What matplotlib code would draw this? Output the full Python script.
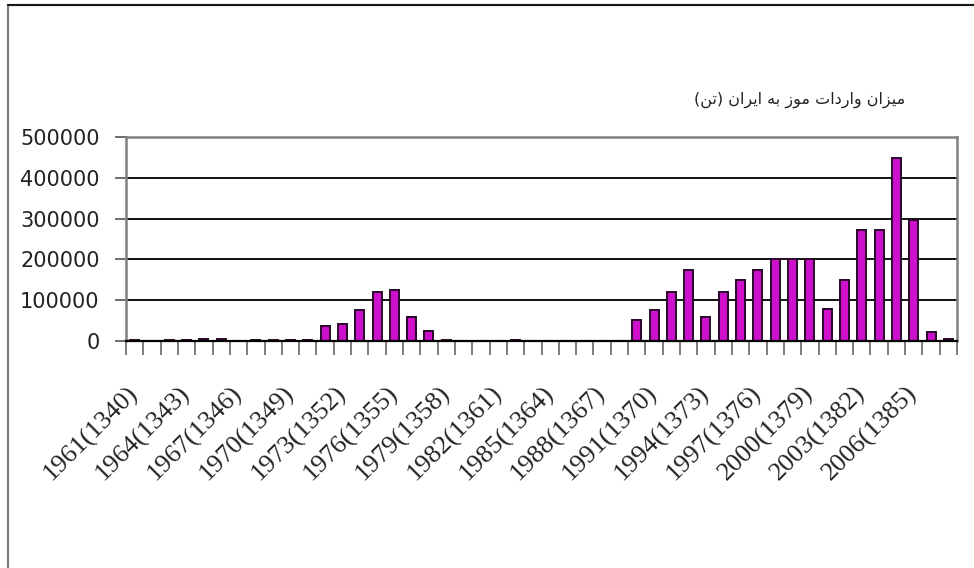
import matplotlib
matplotlib.use("Agg")
import matplotlib.pyplot as plt
from matplotlib.patches import Rectangle

# ---------------- data ----------------
years = list(range(1961, 2009))
imports_tonnes = [2000, 0, 1500, 2000, 6000, 6000, 0, 1500, 1500, 1500, 2000,
                  36000, 41000, 75000, 120000, 124000, 60000, 25000,
                  2000, 0, 0, 0, 2000, 0, 0, 0, 0, 0, 0,
                  52000, 75000, 120000, 173000, 58000, 120000, 150000, 173000,
                  200000, 200000, 200000, 78000, 150000, 273000, 273000,
                  449000, 296000, 21000, 6000]
label_years = [1961, 1964, 1967, 1970, 1973, 1976, 1979, 1982, 1985, 1988,
               1991, 1994, 1997, 2000, 2003, 2006]
tick_labels = ["1961(1340)", "1964(1343)", "1967(1346)", "1970(1349)",
               "1973(1352)", "1976(1355)", "1979(1358)", "1982(1361)",
               "1985(1364)", "1988(1367)", "1991(1370)", "1994(1373)",
               "1997(1376)", "2000(1379)", "2003(1382)", "2006(1385)"]
y_ticks = [0, 100000, 200000, 300000, 400000, 500000]
title_text = "میزان واردات موز به ایران (تن)"


# ------------- minimal Persian shaping (matplotlib has no shaper) -------------
FORMS = {  # iso, final, initial, medial
    "م": ("\uFEE1", "\uFEE2", "\uFEE3", "\uFEE4"),
    "ی": ("\uFEEF", "\uFEF0", "\uFEF3", "\uFEF4"),
    "ز": ("\uFEAF", "\uFEB0", None, None),
    "ا": ("\uFE8D", "\uFE8E", None, None),
    "ن": ("\uFEE5", "\uFEE6", "\uFEE7", "\uFEE8"),
    "و": ("\uFEED", "\uFEEE", None, None),
    "ر": ("\uFEAD", "\uFEAE", None, None),
    "د": ("\uFEA9", "\uFEAA", None, None),
    "ت": ("\uFE95", "\uFE96", "\uFE97", "\uFE98"),
    "ب": ("\uFE8F", "\uFE90", "\uFE91", "\uFE92"),
    "ه": ("\uFEE9", "\uFEEA", "\uFEEB", "\uFEEC"),
}


def shape(s):
    out = []
    for i, c in enumerate(s):
        if c not in FORMS:
            out.append(c)
            continue
        prev = s[i - 1] if i > 0 else ""
        nxt = s[i + 1] if i + 1 < len(s) else ""
        dual = FORMS[c][2] is not None
        jp = prev in FORMS and FORMS[prev][2] is not None
        jn = dual and nxt in FORMS
        if jp and jn:
            out.append(FORMS[c][3])
        elif jp:
            out.append(FORMS[c][1])
        elif jn:
            out.append(FORMS[c][2])
        else:
            out.append(FORMS[c][0])
    vis = "".join(reversed(out))
    return vis.translate(str.maketrans("()", ")("))


# ---------------- figure ----------------
W, H = 974, 568
fig = plt.figure(figsize=(W / 100, H / 100), dpi=100)
fig.patch.set_facecolor("white")

# outer chart frame (cropped on right/bottom)
fig.patches.append(Rectangle((8 / W, -0.05), 1.2, 1 - 5 / H + 0.05,
                             transform=fig.transFigure, fill=False,
                             edgecolor="#7f7f7f", linewidth=1.6))
fig.add_artist(plt.Line2D([8 / W, 1], [1 - 5 / H, 1 - 5 / H],
                          transform=fig.transFigure, color="black", lw=1.2))

left, right, top, bottom = 126, 957, 137, 341
ax = fig.add_axes([left / W, 1 - bottom / H, (right - left) / W, (bottom - top) / H])

x = list(range(len(years)))
ax.bar(x, imports_tonnes, width=0.52, color="#CC10CC", edgecolor="#2a062a",
       linewidth=1.4, zorder=3)

ax.set_xlim(-0.5, len(years) - 0.5)
ax.set_ylim(0, 500000)

# grid
for v in y_ticks[1:-1]:
    ax.axhline(v, color="black", lw=1.3, zorder=1)

ax.set_yticks(y_ticks)
ax.set_yticklabels([str(v) for v in y_ticks], fontsize=15, family="DejaVu Sans",
                   color="#222222")
ax.tick_params(axis="y", length=8, width=1.2, color="#555555", pad=11)

# x ticks: boundaries as minor ticks, labels at category centres
ax.set_xticks([i - 0.5 for i in range(len(years) + 1)], minor=True)
ax.tick_params(axis="x", which="minor", length=10, width=1.2, color="#666666")
label_pos = [years.index(y) for y in label_years]
ax.set_xticks(label_pos)
ax.set_xticklabels(tick_labels, rotation=45, ha="right", va="center",
                   rotation_mode="anchor", fontsize=19, family="Liberation Serif",
                   color="#222222")
ax.tick_params(axis="x", which="major", length=0, pad=35)

for s in ["left", "right", "top"]:
    ax.spines[s].set_color("#808080")
    ax.spines[s].set_linewidth(1.8)
ax.spines["bottom"].set_color("black")
ax.spines["bottom"].set_linewidth(1.6)
ax.spines["bottom"].set_zorder(4)

fig.text(905 / W, 1 - 100 / H, shape(title_text), ha="right", va="center",
         fontsize=11.5, family=["DejaVu Sans"], color="#222222")

fig.savefig("out.png", dpi=100)
